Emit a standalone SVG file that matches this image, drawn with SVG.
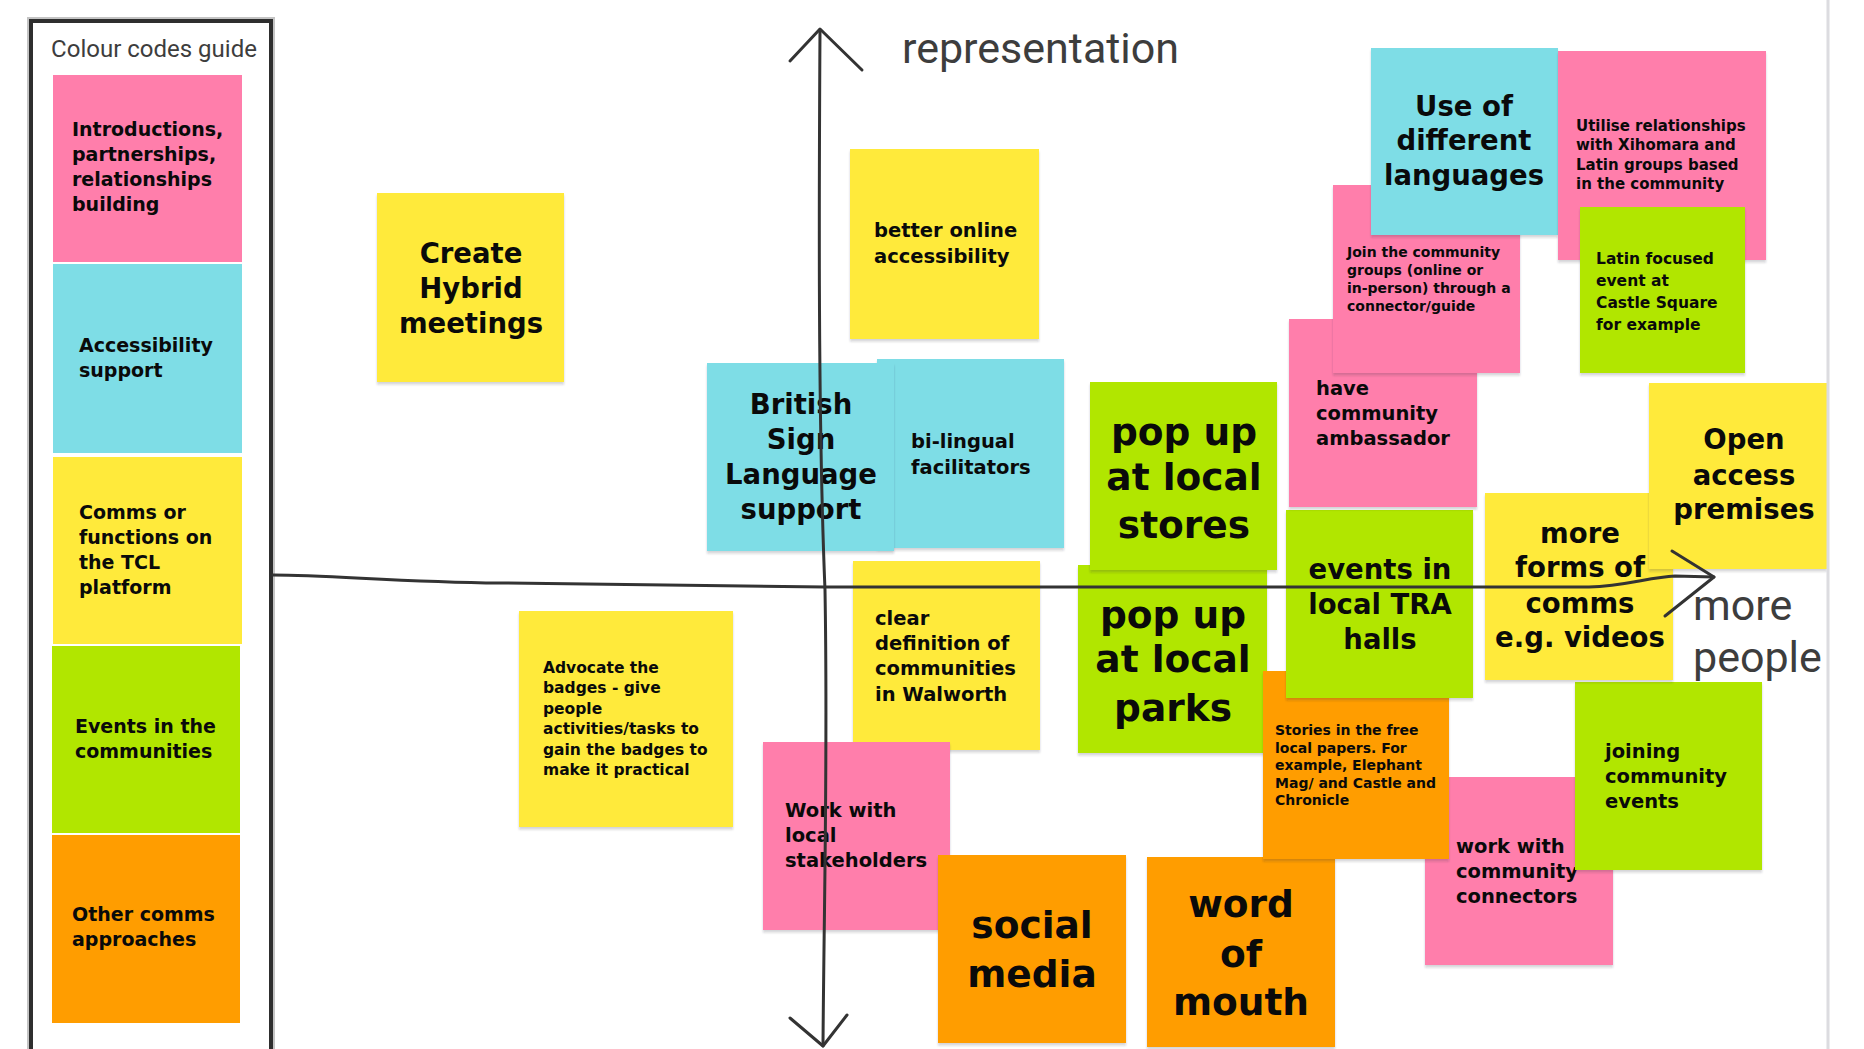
<svg xmlns="http://www.w3.org/2000/svg" width="1864" height="1049" viewBox="0 0 1864 1049">
<defs>
<filter id="sh" x="-5%" y="-5%" width="110%" height="115%">
<feDropShadow dx="0" dy="2.5" stdDeviation="1.2" flood-color="#1a1a3a" flood-opacity="0.2"/>
</filter>
<style>
.pink{fill:#ff7eab}.blue{fill:#7edde6}.yellow{fill:#ffea3b}.green{fill:#b1e600}.orange{fill:#ff9d00}
.note rect{filter:url(#sh)}
text{font-family:"DejaVu Sans","Liberation Sans",sans-serif;font-weight:bold;fill:#0a0a0a}
.m{font-size:19.5px}
.lg{font-size:19px}
.sm{font-size:15.5px}
.xs{font-size:14px}
.h{font-size:27.5px;text-anchor:middle}
.xl{font-size:37.5px;text-anchor:middle}
.lbl{font-family:Roboto,"Liberation Sans",sans-serif;font-weight:normal;fill:#3d3d3d}
.ax{fill:none;stroke:#333;stroke-width:3;stroke-linecap:round;stroke-linejoin:round}
</style>
</defs>
<rect width="1864" height="1049" fill="#fff"/>

<g id="legend">
<rect x="31" y="21" width="240" height="1045" fill="#fff" stroke="#c4c4c4" stroke-width="8"/>
<rect x="31" y="21" width="240" height="1045" fill="#fff" stroke="#2e2e2e" stroke-width="4"/>
<text class="lbl" x="154" y="57" font-size="24" text-anchor="middle" fill="#555">Colour codes guide</text>
<g id="legend-pink"><rect class="pink" x="53" y="75" width="189" height="187"/>
<text class="lg" x="72"><tspan x="72" y="136">Introductions,</tspan><tspan x="72" y="161">partnerships,</tspan><tspan x="72" y="186">relationships</tspan><tspan x="72" y="211">building</tspan></text></g>
<g id="legend-blue"><rect class="blue" x="53" y="264" width="189" height="189"/>
<text class="lg"><tspan x="79" y="352">Accessibility</tspan><tspan x="79" y="377">support</tspan></text></g>
<g id="legend-yellow"><rect class="yellow" x="53" y="457" width="189" height="187"/>
<text class="lg"><tspan x="79" y="519">Comms or</tspan><tspan x="79" y="544">functions on</tspan><tspan x="79" y="569">the TCL</tspan><tspan x="79" y="594">platform</tspan></text></g>
<g id="legend-green"><rect class="green" x="52" y="646" width="188" height="187"/>
<text class="lg"><tspan x="75" y="733">Events in the</tspan><tspan x="75" y="758">communities</tspan></text></g>
<g id="legend-orange"><rect class="orange" x="52" y="835" width="188" height="188"/>
<text class="lg"><tspan x="72" y="921">Other comms</tspan><tspan x="72" y="946">approaches</tspan></text></g>
</g>

<g id="nodes">
<g id="n-hybrid" class="note"><rect class="yellow" x="377" y="193" width="187" height="189"/>
<text class="h"><tspan x="471" y="263">Create</tspan><tspan x="471" y="298">Hybrid</tspan><tspan x="471" y="333">meetings</tspan></text></g>

<g id="n-online" class="note"><rect class="yellow" x="850" y="149" width="189" height="190"/>
<text class="m"><tspan x="874" y="237">better online</tspan><tspan x="874" y="263">accessibility</tspan></text></g>

<g id="n-bilingual" class="note"><rect class="blue" x="877" y="359" width="187" height="189"/>
<text class="m"><tspan x="911" y="448">bi-lingual</tspan><tspan x="911" y="474">facilitators</tspan></text></g>

<g id="n-bsl" class="note"><rect class="blue" x="707" y="363" width="187" height="188"/>
<text class="h"><tspan x="801" y="414">British</tspan><tspan x="801" y="449">Sign</tspan><tspan x="801" y="484">Language</tspan><tspan x="801" y="519">support</tspan></text></g>

<g id="n-clear" class="note"><rect class="yellow" x="853" y="561" width="187" height="189"/>
<text class="m"><tspan x="875" y="625">clear</tspan><tspan x="875" y="650">definition of</tspan><tspan x="875" y="675">communities</tspan><tspan x="875" y="701">in Walworth</tspan></text></g>

<g id="n-advocate" class="note"><rect class="yellow" x="519" y="611" width="214" height="216"/>
<text class="sm"><tspan x="543" y="673">Advocate the</tspan><tspan x="543" y="693">badges - give</tspan><tspan x="543" y="714">people</tspan><tspan x="543" y="734">activities/tasks to</tspan><tspan x="543" y="755">gain the badges to</tspan><tspan x="543" y="775">make it practical</tspan></text></g>

<g id="n-stakeholders" class="note"><rect class="pink" x="763" y="742" width="187" height="188"/>
<text class="m"><tspan x="785" y="817">Work with</tspan><tspan x="785" y="842">local</tspan><tspan x="785" y="867">stakeholders</tspan></text></g>

<g id="n-social" class="note"><rect class="orange" x="938" y="855" width="188" height="188"/>
<text class="xl"><tspan x="1032" y="938">social</tspan><tspan x="1032" y="987">media</tspan></text></g>

<g id="n-word" class="note"><rect class="orange" x="1147" y="857" width="188" height="190"/>
<text class="xl"><tspan x="1241" y="917">word</tspan><tspan x="1241" y="967">of</tspan><tspan x="1241" y="1015">mouth</tspan></text></g>

<g id="n-parks" class="note"><rect class="green" x="1078" y="565" width="189" height="188"/>
<text class="xl"><tspan x="1173" y="628">pop up</tspan><tspan x="1173" y="672">at local</tspan><tspan x="1173" y="721">parks</tspan></text></g>

<g id="n-stores" class="note"><rect class="green" x="1090" y="382" width="187" height="188"/>
<text class="xl"><tspan x="1184" y="445">pop up</tspan><tspan x="1184" y="490">at local</tspan><tspan x="1184" y="538">stores</tspan></text></g>

<g id="n-connectors" class="note"><rect class="pink" x="1425" y="777" width="188" height="188"/>
<text class="m"><tspan x="1456" y="853">work with</tspan><tspan x="1456" y="878">community</tspan><tspan x="1456" y="903">connectors</tspan></text></g>

<g id="n-stories" class="note"><rect class="orange" x="1263" y="671" width="186" height="188"/>
<text class="xs"><tspan x="1275" y="735">Stories in the free</tspan><tspan x="1275" y="752.5">local papers. For</tspan><tspan x="1275" y="770">example, Elephant</tspan><tspan x="1275" y="788">Mag/ and Castle and</tspan><tspan x="1275" y="805">Chronicle</tspan></text></g>

<g id="n-tra" class="note"><rect class="green" x="1286" y="510" width="187" height="188"/>
<text class="h"><tspan x="1380" y="579">events in</tspan><tspan x="1380" y="614">local TRA</tspan><tspan x="1380" y="649">halls</tspan></text></g>

<g id="n-joining" class="note"><rect class="green" x="1575" y="682" width="187" height="188"/>
<text class="m"><tspan x="1605" y="758">joining</tspan><tspan x="1605" y="783">community</tspan><tspan x="1605" y="808">events</tspan></text></g>

<g id="n-forms" class="note"><rect class="yellow" x="1485" y="493" width="188" height="187"/>
<text class="h"><tspan x="1580" y="543">more</tspan><tspan x="1580" y="577">forms of</tspan><tspan x="1580" y="613">comms</tspan><tspan x="1580" y="647">e.g. videos</tspan></text></g>

<g id="n-open" class="note"><rect class="yellow" x="1649" y="383" width="178" height="186"/>
<text class="h"><tspan x="1744" y="449">Open</tspan><tspan x="1744" y="485">access</tspan><tspan x="1744" y="519">premises</tspan></text></g>

<g id="n-ambassador" class="note"><rect class="pink" x="1289" y="319" width="188" height="188"/>
<text class="m"><tspan x="1316" y="395">have</tspan><tspan x="1316" y="420">community</tspan><tspan x="1316" y="445">ambassador</tspan></text></g>

<g id="n-join" class="note"><rect class="pink" x="1333" y="185" width="187" height="188"/>
<text class="xs"><tspan x="1347" y="257">Join the community</tspan><tspan x="1347" y="275">groups (online or</tspan><tspan x="1347" y="293">in-person) through a</tspan><tspan x="1347" y="311">connector/guide</tspan></text></g>

<g id="n-languages" class="note"><rect class="blue" x="1371" y="48" width="187" height="187"/>
<text class="h"><tspan x="1464" y="116">Use of</tspan><tspan x="1464" y="150">different</tspan><tspan x="1464" y="185">languages</tspan></text></g>

<g id="n-utilise" class="note"><rect class="pink" x="1558" y="51" width="208" height="209"/>
<text style="font-size:15px"><tspan x="1576" y="131">Utilise relationships</tspan><tspan x="1576" y="150">with Xihomara and</tspan><tspan x="1576" y="170">Latin groups based</tspan><tspan x="1576" y="189">in the community</tspan></text></g>

<g id="n-latin" class="note"><rect class="green" x="1580" y="207" width="165" height="166"/>
<text class="sm"><tspan x="1596" y="264">Latin focused</tspan><tspan x="1596" y="286">event at</tspan><tspan x="1596" y="308">Castle Square</tspan><tspan x="1596" y="330">for example</tspan></text></g>
</g>

<g id="connectors">
<path class="ax" d="M820,30 C819,200 818,420 825,590 C828,760 824,900 823,1046"/>
<path class="ax" d="M790,61 L820,29 L862,70"/>
<path class="ax" d="M790,1018 L823,1046 L847,1015"/>
<path class="ax" d="M273,575 C330,575 400,582 500,583 L825,587 L1589,587 C1625,586 1650,577 1675,576 L1714,577"/>
<path class="ax" d="M1672,551 L1714,577 L1665,616"/>
</g>

<g id="labels">
<text class="lbl" x="902" y="63" font-size="43">representation</text>
<text class="lbl" font-size="43"><tspan x="1693" y="620">more</tspan><tspan x="1693" y="672">people</tspan></text>
</g>
<rect x="1829" y="0" width="35" height="1049" fill="#fff"/>
<line x1="1828" y1="0" x2="1828" y2="1049" stroke="#dcdce0" stroke-width="3"/>
</svg>
